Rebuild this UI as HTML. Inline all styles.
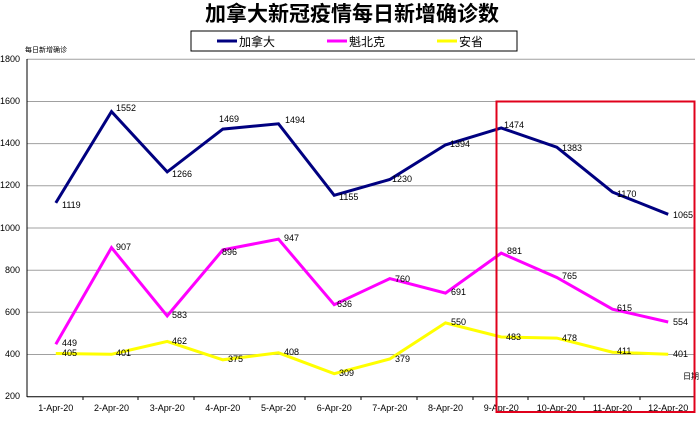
<!DOCTYPE html>
<html><head><meta charset="utf-8"><style>
body{margin:0;background:#fff;}
text{font-family:"Liberation Sans","Noto Sans CJK SC",sans-serif;}
</style></head><body>
<svg width="700" height="418" xmlns="http://www.w3.org/2000/svg">
<rect width="700" height="418" fill="#fff"/>
<text x="352" y="21" text-anchor="middle" font-size="21" font-weight="bold" fill="#000" style="font-family:'Noto Sans CJK SC',sans-serif">加拿大新冠疫情每日新增确诊数</text>
<rect x="191" y="31" width="326" height="20" fill="#fff" stroke="#000" stroke-width="1"/>
<line x1="217" y1="41" x2="237" y2="41" stroke="#000080" stroke-width="3"/>
<text x="239" y="46" font-size="12">加拿大</text>
<line x1="327" y1="41" x2="347" y2="41" stroke="#ff00ff" stroke-width="3"/>
<text x="349" y="46" font-size="12">魁北克</text>
<line x1="437" y1="41" x2="457" y2="41" stroke="#ffff00" stroke-width="3"/>
<text x="459" y="46" font-size="12">安省</text>
<text x="25" y="52" font-size="7">每日新增确诊</text>
<g stroke="#a0a0a0" stroke-width="1">
<line x1="27" y1="59.3" x2="695" y2="59.3"/><line x1="27" y1="101.5" x2="695" y2="101.5"/>
<line x1="27" y1="143.6" x2="695" y2="143.6"/><line x1="27" y1="185.8" x2="695" y2="185.8"/>
<line x1="27" y1="228" x2="695" y2="228"/><line x1="27" y1="270.2" x2="695" y2="270.2"/>
<line x1="27" y1="312.3" x2="695" y2="312.3"/><line x1="27" y1="354.5" x2="695" y2="354.5"/>
</g>
<g stroke="#000" stroke-width="1">
<line x1="27" y1="59" x2="27" y2="397"/><line x1="27" y1="396.7" x2="695" y2="396.7"/>
<line x1="83" y1="397" x2="83" y2="400"/><line x1="138" y1="397" x2="138" y2="400"/><line x1="194" y1="397" x2="194" y2="400"/><line x1="250" y1="397" x2="250" y2="400"/><line x1="305" y1="397" x2="305" y2="400"/><line x1="361" y1="397" x2="361" y2="400"/><line x1="417" y1="397" x2="417" y2="400"/><line x1="473" y1="397" x2="473" y2="400"/><line x1="528" y1="397" x2="528" y2="400"/><line x1="584" y1="397" x2="584" y2="400"/><line x1="640" y1="397" x2="640" y2="400"/><line x1="695" y1="397" x2="695" y2="400"/>
</g>
<g font-size="9" text-anchor="end">
<text x="20" y="62">1800</text><text x="20" y="104">1600</text><text x="20" y="146">1400</text><text x="20" y="188">1200</text><text x="20" y="231">1000</text><text x="20" y="273">800</text><text x="20" y="315">600</text><text x="20" y="357">400</text><text x="20" y="399">200</text>
</g>
<g font-size="9" text-anchor="middle">
<text x="55.8" y="411">1-Apr-20</text><text x="111.5" y="411">2-Apr-20</text><text x="167.2" y="411">3-Apr-20</text><text x="222.8" y="411">4-Apr-20</text><text x="278.5" y="411">5-Apr-20</text><text x="334.2" y="411">6-Apr-20</text><text x="389.8" y="411">7-Apr-20</text><text x="445.5" y="411">8-Apr-20</text><text x="501.2" y="411">9-Apr-20</text><text x="556.8" y="411">10-Apr-20</text><text x="612.5" y="411">11-Apr-20</text><text x="668.2" y="411">12-Apr-20</text>
</g>
<text x="683" y="379" font-size="8">日期</text>
<polyline fill="none" stroke="#000080" stroke-width="3" points="55.8,202.9 111.5,111.6 167.2,171.9 222.8,129.1 278.5,123.8 334.2,195.3 389.8,179.5 445.5,144.9 501.2,128 556.8,147.2 612.5,192.1 668.2,214.3"/>
<polyline fill="none" stroke="#ff00ff" stroke-width="3" points="55.8,344.2 111.5,247.6 167.2,315.9 222.8,249.9 278.5,239.2 334.2,304.7 389.8,278.6 445.5,293.1 501.2,253.1 556.8,277.5 612.5,309.2 668.2,322"/>
<polyline fill="none" stroke="#ffff00" stroke-width="3" points="55.8,353.5 111.5,354.3 167.2,341.4 222.8,359.8 278.5,352.8 334.2,373.7 389.8,359 445.5,322.9 501.2,337 556.8,338.1 612.5,352.2 668.2,354.3"/>
<g font-size="9">
<text x="62" y="208">1119</text><text x="116" y="111">1552</text><text x="172" y="177">1266</text><text x="219" y="122">1469</text><text x="285" y="123">1494</text><text x="339" y="200">1155</text><text x="392" y="182">1230</text><text x="450" y="147">1394</text><text x="504" y="128">1474</text><text x="562" y="151">1383</text><text x="617" y="197">1170</text><text x="673" y="218">1065</text>
<text x="62" y="346">449</text><text x="116" y="250">907</text><text x="172" y="318">583</text><text x="222" y="255">896</text><text x="284" y="241">947</text><text x="337" y="307">636</text><text x="395" y="282">760</text><text x="451" y="295">691</text><text x="507" y="254">881</text><text x="562" y="279">765</text><text x="617" y="311">615</text><text x="673" y="325">554</text>
<text x="62" y="356">405</text><text x="116" y="356">401</text><text x="172" y="344">462</text><text x="228" y="362">375</text><text x="284" y="355">408</text><text x="339" y="376">309</text><text x="395" y="362">379</text><text x="451" y="325">550</text><text x="506" y="340">483</text><text x="562" y="341">478</text><text x="617" y="354">411</text><text x="673" y="357">401</text>
</g>
<rect x="496.5" y="101.5" width="198" height="310.5" fill="none" stroke="#e0001b" stroke-width="2"/>
</svg>
</body></html>
